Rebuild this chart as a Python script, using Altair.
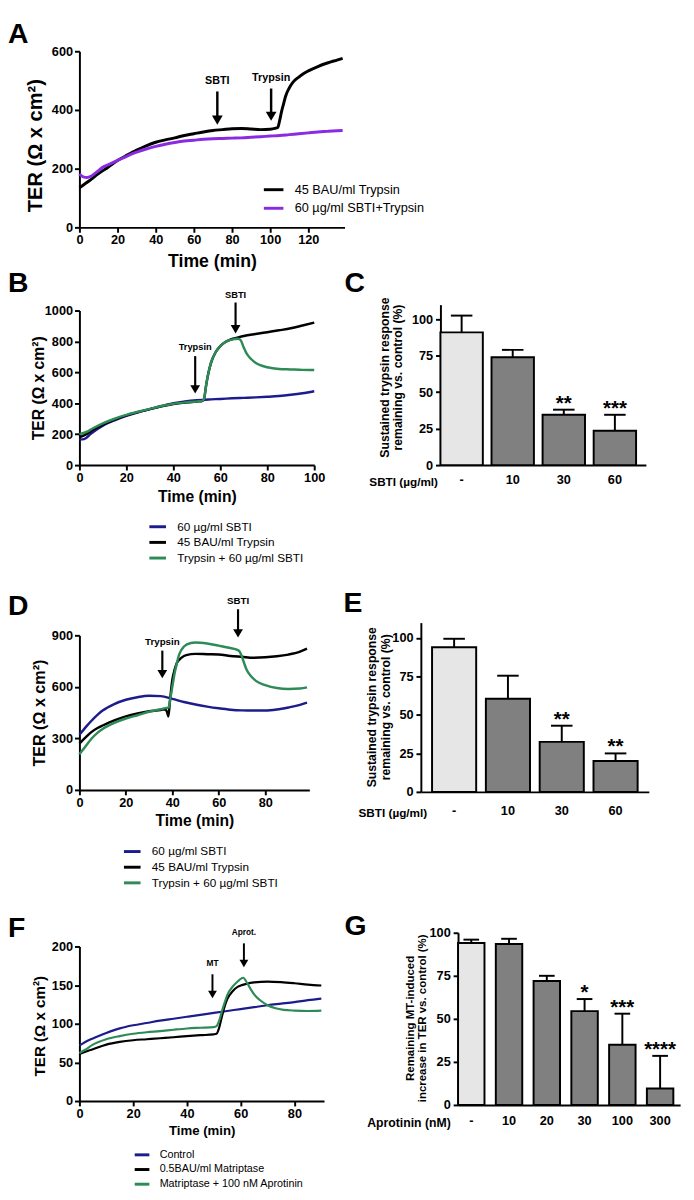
import altair as alt
import pandas as pd

FONT = "Liberation Sans"
NAVY = "#1c1c8c"
GREEN = "#2e8b57"
PURPLE = "#8a2be2"
BLACK = "#000000"
HEAD = "M0,0L-1,-1.7L1,-1.7Z"
TER = "TER (Ω x cm²)"

# ---------------- Panel A ----------------
a_names = ["45 BAU/ml Trypsin", "60 µg/ml SBTI+Trypsin"]
a_t1 = [0, 5, 10, 15, 20, 25, 30, 35, 40, 45, 50, 55, 60, 65, 70, 75, 80, 85, 90, 95,
        100, 103, 104, 105, 106, 107, 108, 110, 112, 115, 118, 120, 125, 130, 135, 138]
a_v1 = [135, 158, 183, 205, 228, 246, 263, 278, 290, 298, 305, 313, 319, 325, 330, 333, 336, 337, 335, 333,
        334, 338, 340, 365, 395, 420, 445, 475, 495, 512, 526, 533, 548, 560, 570, 576]
a_t2 = [0, 2, 4, 6, 8, 10, 12, 15, 20, 25, 30, 35, 40, 45, 50, 55, 60, 65, 70, 75,
        80, 85, 90, 95, 100, 105, 110, 115, 120, 125, 130, 135, 138]
a_v2 = [182, 172, 170, 174, 183, 193, 204, 213, 228, 243, 256, 267, 276, 283, 289, 294, 297, 300, 302, 303,
        304, 305, 307, 309, 311, 313, 316, 319, 322, 325, 327, 329, 330]
a_arrow_lab = ["SBTI", "Trypsin"]
a_arrow_x = [72.3, 100.5]
a_arrow_ly = [500, 510]
a_arrow_top = [463, 473]
a_arrow_end = [368, 381]
a_arrow_tip = [350, 363]

# ---------------- Panel B ----------------
b_names = ["60 µg/ml SBTI", "45 BAU/ml Trypsin", "Trypsin + 60 µg/ml SBTI"]
b_t_blue = [0, 2, 5, 10, 15, 20, 25, 30, 35, 40, 45, 50, 55, 60, 65, 70, 75, 80, 85, 90, 95, 100]
b_v_blue = [165, 168, 205, 255, 290, 318, 342, 362, 382, 400, 412, 420, 425, 428, 432, 435, 438, 442, 447, 455, 465, 478]
b_t_black = [0, 3, 6, 10, 15, 20, 25, 30, 35, 40, 45, 50, 52, 53, 54, 55, 56, 58, 60, 62,
             64, 66, 68, 70, 75, 80, 85, 90, 95, 100]
b_v_black = [179, 200, 230, 262, 295, 322, 343, 362, 380, 395, 405, 412, 413, 425, 520, 600, 660, 730, 770, 795,
             810, 820, 828, 835, 848, 860, 872, 885, 903, 922]
b_t_green = [0, 3, 6, 10, 15, 20, 25, 30, 35, 40, 45, 50, 52, 53, 54, 55, 56, 58, 60, 62, 64,
             66, 67.5, 68.5, 70, 71, 72, 73, 75, 77, 80, 85, 90, 95, 100]
b_v_green = [200, 215, 240, 270, 300, 325, 345, 364, 382, 397, 406, 412, 414, 425, 520, 600, 660, 730, 770, 795, 808,
             815, 818, 812, 760, 728, 705, 688, 662, 646, 633, 622, 619, 616, 615]
b_arrow_lab = ["Trypsin", "SBTI"]
b_arrow_x = [49.3, 66.5]
b_arrow_ly = [764, 1099]
b_arrow_top = [705, 1052]
b_arrow_end = [490, 880]
b_arrow_tip = [463, 852]

# ---------------- Panel C ----------------
c_cats = ["-", "10", "30", "60"]
c_vals = [91, 74, 34.5, 23.5]
c_errs = [102.5, 79, 38, 34.5]
c_stars = ["", "", "**", "***"]

# ---------------- Panel D ----------------
d_t_blue = [0, 3, 5, 8, 10, 15, 20, 25, 30, 35, 40, 45, 50, 55, 60, 65, 70, 75, 80, 85, 90, 95, 98]
d_v_blue = [321, 370, 400, 440, 462, 500, 525, 540, 548, 546, 530, 512, 497, 485, 475, 467, 463, 462, 462, 468, 480, 495, 508]
d_t_black = [0, 3, 5, 8, 10, 15, 20, 25, 30, 35, 37, 37.8, 38.3, 39, 40, 41, 42, 44, 46, 50,
             55, 60, 65, 70, 75, 80, 85, 90, 95, 98]
d_v_black = [270, 310, 335, 362, 375, 405, 428, 445, 458, 465, 470, 450, 428, 520, 640, 700, 740, 770, 785, 792,
             790, 788, 780, 775, 770, 772, 778, 788, 805, 822]
d_t_green = [0, 3, 5, 8, 10, 15, 20, 25, 30, 35, 37, 38.5, 39, 40, 41, 42, 43, 45, 48, 50,
             55, 60, 65, 68, 69, 70, 71, 72, 74, 76, 80, 85, 90, 95, 98]
d_v_green = [207, 260, 295, 335, 355, 390, 416, 435, 455, 470, 476, 480, 520, 600, 680, 740, 790, 835, 855, 858,
             852, 840, 826, 815, 805, 775, 735, 700, 660, 635, 610, 593, 588, 590, 597]
d_arrow_lab = ["Trypsin", "SBTI"]
d_arrow_x = [35.7, 68.3]
d_arrow_ly = [862, 1100]
d_arrow_top = [811, 1052]
d_arrow_end = [675, 912]
d_arrow_tip = [650, 887]

# ---------------- Panel E ----------------
e_cats = ["-", "10", "30", "60"]
e_vals = [94, 60.5, 32.5, 20]
e_errs = [99.5, 75.5, 43, 25]
e_stars = ["", "", "**", "**"]

# ---------------- Panel F ----------------
f_names = ["Control", "0.5BAU/ml Matriptase", "Matriptase + 100 nM Aprotinin"]
f_t_blue = [0, 2, 5, 10, 15, 20, 25, 30, 35, 40, 45, 50, 55, 60, 65, 70, 75, 80, 85, 90]
f_v_blue = [71.6, 76, 81, 88, 94, 98, 101, 104, 106.5, 109, 111.5, 114, 116.5, 119, 121.5, 124, 126, 128, 130.5, 132.6]
f_t_black = [0, 2, 5, 10, 15, 20, 25, 30, 35, 40, 45, 50, 51, 52, 53, 54, 55, 57, 59, 60,
             62, 65, 70, 75, 80, 85, 90]
f_v_black = [61, 63.5, 67, 73, 76.5, 78.7, 80, 81.3, 82.5, 84, 85.2, 86.3, 87, 95, 109, 122, 132, 142, 148, 149.5,
             151.5, 153.5, 154.5, 153.8, 152.4, 150.7, 149.5]
f_t_green = [0, 2, 5, 10, 15, 20, 25, 30, 35, 40, 45, 50, 51, 52, 53, 54, 55, 57, 59, 60,
             61, 62, 63, 65, 67, 70, 73, 76, 80, 85, 90]
f_v_green = [62, 66, 73, 80, 84, 87, 89, 90.5, 92.3, 93.9, 94.8, 95.6, 96.8, 104, 116, 127, 137, 148, 155, 158,
             159.5, 155, 149, 138, 131, 124, 120, 118, 117, 116.5, 117]
f_arrow_lab = ["MT", "Aprot."]
f_arrow_x = [49.5, 61.2]
f_arrow_ly = [179, 219]
f_arrow_top = [164, 204]
f_arrow_end = [138, 178]
f_arrow_tip = [133, 173]

# ---------------- Panel G ----------------
g_cats = ["-", "10", "20", "30", "100", "300"]
g_vals = [94, 93.5, 72, 54.5, 35, 9.5]
g_errs = [96, 96.5, 75, 61.5, 53, 28.5]
g_stars = ["", "", "", "*", "***", "****"]


def letter_layer(letter, lx, ly):
    return alt.Chart(pd.DataFrame({"L": [letter]})).mark_text(
        font=FONT, fontSize=29, fontWeight="bold", align="left", baseline="alphabetic", color="black"
    ).encode(x=alt.value(lx), y=alt.value(ly), text="L:N")


def line_panel(series, colors, arrows, letter, g):
    rows = []
    for name, ts, vs in series:
        rows += [{"t": t, "v": v, "s": name} for t, v in zip(ts, vs)]
    df = pd.DataFrame(rows)
    names = [s[0] for s in series]
    xs = alt.Scale(domain=g["xdom"], range=[0, g["xw"]], nice=False, zero=False)
    ys = alt.Scale(domain=g["ydom"], range=g["yr"], nice=False, zero=False)
    xax = alt.Axis(values=g["xticks"], title="Time (min)", titleFontSize=g["xtfs"], titleY=g["xty"],
                   titleBaseline="middle", labelFlush=False, labelPadding=2, labelFontSize=13, format="d")
    yax = alt.Axis(values=g["yticks"], title=TER, titleFontSize=g["ytfs"], titleX=g["ytx"], titleY=g["yty"],
                   titleBaseline="middle", titleAngle=270, titleAlign="center", labelPadding=2,
                   labelFontSize=13, format="d")
    leg = alt.Legend(orient="none", legendX=g["legx"], legendY=g["legy"], title=None, direction="vertical",
                     symbolType="stroke", symbolStrokeWidth=3, symbolSize=g["ss"], labelFontSize=g["lfs"],
                     labelFont=FONT, labelColor="black", labelFontWeight="normal", labelOffset=g["lo"],
                     rowPadding=g["rp"], padding=0, labelLimit=300)
    X = alt.X("t:Q", scale=xs, axis=xax)
    lines = alt.Chart(df).mark_line(strokeWidth=g["sw"], interpolate="monotone").encode(
        x=X,
        y=alt.Y("v:Q", scale=ys, axis=yax),
        color=alt.Color("s:N", scale=alt.Scale(domain=names, range=colors), legend=leg),
    )
    adf = pd.DataFrame({"x": arrows[0], "lab": arrows[1], "ly": arrows[2], "top": arrows[3],
                        "end": arrows[4], "tip": arrows[5]})
    ab = alt.Chart(adf)
    AX = alt.X("x:Q", scale=xs, axis=xax)
    shaft = ab.mark_rule(strokeWidth=g["aw"], color="black").encode(
        x=AX, y=alt.Y("top:Q", scale=ys, axis=yax), y2="end:Q")
    head = ab.mark_point(shape=HEAD, filled=True, size=g["hs"], color="black", opacity=1, strokeWidth=0).encode(
        x=AX, y=alt.Y("tip:Q", scale=ys, axis=yax))
    lab = ab.mark_text(font=FONT, fontWeight="bold", fontSize=g["afs"], baseline="middle", color="black").encode(
        x=AX, y=alt.Y("ly:Q", scale=ys, axis=yax), text="lab:N")
    return alt.layer(lines, shaft, head, lab, letter_layer(letter, g["lx"], g["ly"])).properties(
        width=g["w"], height=g["h"])


def bar_panel(cats, vals, errs, stars, letter, g):
    df = pd.DataFrame({"c": cats, "v": vals, "e": errs, "st": stars})
    xs = alt.Scale(domain=cats, range=[-g["off"], g["pw"] - g["off"]],
                   paddingInner=g["pi"], paddingOuter=g["po"], align=g["al"])
    ys = alt.Scale(domain=g["ydom"], range=g["yr"], nice=False, zero=False)
    xax = alt.Axis(title=g["xtitle"], titleX=g["xtx"] - g["off"], titleY=g["xty"], titleAlign="right",
                   titleBaseline="middle", titleFontSize=g["xtfs"], labelAngle=0, ticks=False, tickSize=0,
                   labelPadding=g["lp"], labelFontSize=13)
    yax = alt.Axis(values=[0, 25, 50, 75, 100], title=g["ytitle"], titleX=g["ytx"], titleY=g["yty"],
                   titleBaseline="middle", titleAngle=270, titleAlign="center", titleFontSize=g["ytfs"],
                   titleLineHeight=g["ytlh"], labelPadding=3, labelFontSize=13, offset=g["off"])
    X = alt.X("c:N", sort=cats, scale=xs, axis=xax)
    base = alt.Chart(df)
    fills = ["#e6e6e6"] + ["#808080"] * (len(cats) - 1)
    bars = base.mark_bar(stroke="black", strokeWidth=2).encode(
        x=X, y=alt.Y("v:Q", scale=ys, axis=yax),
        color=alt.Color("c:N", scale=alt.Scale(domain=cats, range=fills), legend=None))
    stems = base.mark_rule(strokeWidth=2, color="black").encode(
        x=X, y=alt.Y("v:Q", scale=ys, axis=yax), y2="e:Q")
    caps = base.mark_tick(thickness=2, size=g["cap"], color="black", opacity=1).encode(
        x=X, y=alt.Y("e:Q", scale=ys, axis=yax))
    st = base.mark_text(font=FONT, fontWeight="bold", fontSize=21, baseline="alphabetic", color="black").encode(
        x=X, y=alt.Y("e:Q", scale=ys, axis=yax), text="st:N")
    return alt.layer(bars, stems, caps, st, letter_layer(letter, g["lx"] - g["off"], g["ly"])).properties(
        width=max(1, g["pw"] - g["off"]), height=g["h"])


LEFTW = 387

A = line_panel(
    [(a_names[0], a_t1, a_v1), (a_names[1], a_t2, a_v2)], [BLACK, PURPLE],
    [a_arrow_x, a_arrow_lab, a_arrow_ly, a_arrow_top, a_arrow_end, a_arrow_tip], "A",
    dict(w=271, h=180, xw=271, xdom=[0, 139], ydom=[0, 600], yr=[180, 0],
         xticks=[0, 20, 40, 60, 80, 100, 120], yticks=[0, 200, 400, 600],
         xtfs=18, xty=35, ytfs=20.5, ytx=-45, yty=96,
         legx=187, legy=130, ss=400, lfs=13, lo=10, rp=-4,
         sw=3, aw=2.5, hs=121, afs=11, lx=-73, ly=-8))

B = line_panel(
    [(b_names[0], b_t_blue, b_v_blue), (b_names[1], b_t_black, b_v_black), (b_names[2], b_t_green, b_v_green)],
    [NAVY, BLACK, GREEN],
    [b_arrow_x, b_arrow_lab, b_arrow_ly, b_arrow_top, b_arrow_end, b_arrow_tip], "B",
    dict(w=LEFTW, h=243, xw=240, xdom=[0, 100], ydom=[0, 1000], yr=[243, 85],
         xticks=[0, 20, 40, 60, 80, 100], yticks=[0, 200, 400, 600, 800, 1000],
         xtfs=16, xty=32, ytfs=16, ytx=-42, yty=164,
         legx=70, legy=296, ss=289, lfs=12, lo=10, rp=-3.5,
         sw=2.5, aw=2.2, hs=100, afs=9.5, lx=-73, ly=66))

C = bar_panel(c_cats, c_vals, c_errs, c_stars, "C",
              dict(off=18, pw=210, h=243, ydom=[0, 110], yr=[243, 79], pi=0.17, po=0.096, al=0,
                   xtitle="SBTI (µg/ml)", xtx=-3, xty=17, xtfs=12, lp=9,
                   ytitle=["Sustained trypsin response", "remaining vs. control (%)"],
                   ytfs=12.5, ytlh=13.5, ytx=-57, yty=153, cap=22, lx=-98, ly=66))

D = line_panel(
    [(b_names[0], d_t_blue, d_v_blue), (b_names[1], d_t_black, d_v_black), (b_names[2], d_t_green, d_v_green)],
    [NAVY, BLACK, GREEN],
    [d_arrow_x, d_arrow_lab, d_arrow_ly, d_arrow_top, d_arrow_end, d_arrow_tip], "D",
    dict(w=LEFTW, h=332, xw=235, xdom=[0, 99], ydom=[0, 900], yr=[332, 174],
         xticks=[0, 20, 40, 60, 80], yticks=[0, 300, 600, 900],
         xtfs=16, xty=31, ytfs=16.5, ytx=-41, yty=253,
         legx=44, legy=385, ss=289, lfs=12, lo=10, rp=-3.5,
         sw=2.5, aw=2.2, hs=100, afs=10, lx=-73, ly=153))

E = bar_panel(e_cats, e_vals, e_errs, e_stars, "E",
              dict(off=38, pw=233, h=334, ydom=[0, 110], yr=[334, 161], pi=0.18, po=0.208, al=0.5,
                   xtitle="SBTI (µg/ml)", xtx=6, xty=21, xtfs=12, lp=13,
                   ytitle=["Sustained trypsin response", "remaining vs. control (%)"],
                   ytfs=12.5, ytlh=14, ytx=-50, yty=247, cap=22, lx=-79, ly=150))

F = line_panel(
    [(f_names[0], f_t_blue, f_v_blue), (f_names[1], f_t_black, f_v_black), (f_names[2], f_t_green, f_v_green)],
    [NAVY, BLACK, GREEN],
    [f_arrow_x, f_arrow_lab, f_arrow_ly, f_arrow_top, f_arrow_end, f_arrow_tip], "F",
    dict(w=LEFTW, h=316, xw=250, xdom=[0, 91], ydom=[0, 200], yr=[316, 158],
         xticks=[0, 20, 40, 60, 80], yticks=[0, 50, 100, 150, 200],
         xtfs=13.5, xty=30, ytfs=15.5, ytx=-41, yty=239,
         legx=55, legy=362, ss=225, lfs=11, lo=9, rp=-4.5,
         sw=2.2, aw=2, hs=81, afs=8.5, lx=-73, ly=148))

G = bar_panel(g_cats, g_vals, g_errs, g_stars, "G",
              dict(off=0, pw=227, h=320, ydom=[0, 100], yr=[320, 144], pi=0.30, po=0.09, al=0,
                   xtitle="Aprotinin (nM)", xtx=-8, xty=18, xtfs=12.5, lp=10,
                   ytitle=["Remaining MT-induced", "increase in TER vs. control (%)"],
                   ytfs=11.7, ytlh=13, ytx=-50, yty=231, cap=16, lx=-116, ly=146))

spacer = alt.Chart(pd.DataFrame({"z": [0]})).mark_point(opacity=0).encode(
    x=alt.X("z:Q", axis=None), y=alt.Y("z:Q", axis=None)).properties(width=1, height=180)

chart = alt.concat(A, spacer, B, C, D, E, F, G, columns=2, spacing=0, bounds="flush", align="none",
                   padding=0).resolve_scale(
    color="independent", x="independent", y="independent"
).resolve_legend(color="independent").configure_view(strokeWidth=0).configure_axis(
    domainColor="black", domainWidth=2, tickColor="black", tickWidth=2, tickSize=5,
    labelFont=FONT, labelFontWeight="bold", labelColor="black",
    titleFont=FONT, titleFontWeight="bold", titleColor="black", grid=False
).configure_text(font=FONT)

chart.save("out.html", embed_options={"renderer": "svg", "actions": False})
